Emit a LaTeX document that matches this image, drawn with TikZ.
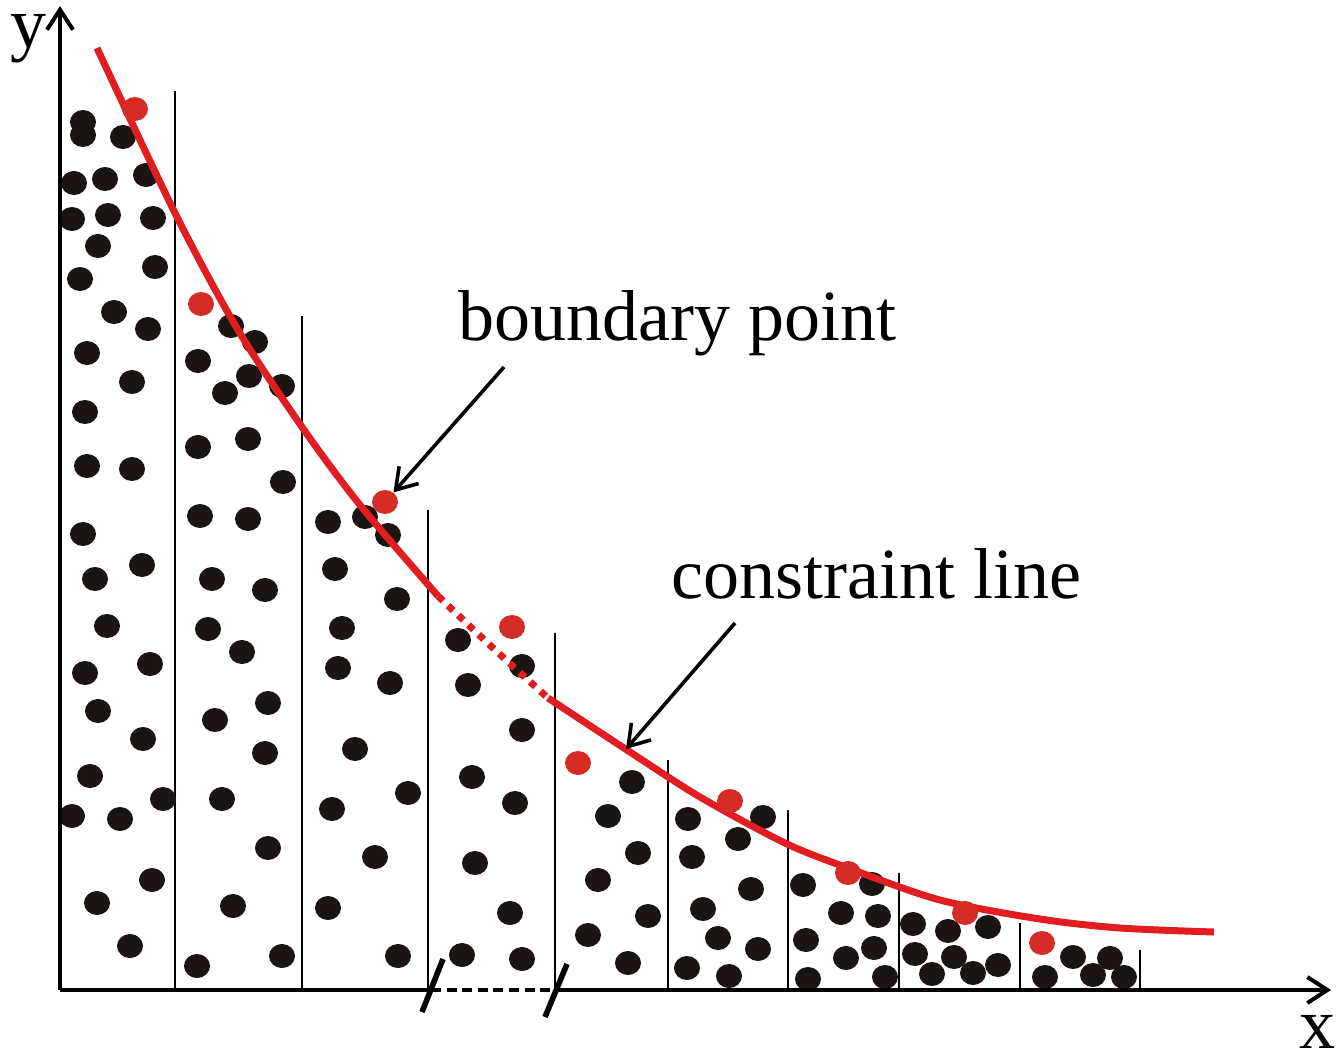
\documentclass[tikz,border=0pt]{standalone}
\usepackage{fontspec}
\setmainfont{Liberation Serif}
\usetikzlibrary{
    arrows.meta,
    shapes.geometric
}
\definecolor{curvered}{RGB}{224,30,34}
\definecolor{dotred}{RGB}{214,44,38}
\definecolor{dotblack}{RGB}{26,20,18}
\tikzset{
  axisline/.style={
    black,
    line width=2pt
  },
  divline/.style={
    black,
    line width=0.7pt
  },
  redcurve/.style={
    curvered,
    line width=3.5pt
  },
  callout/.style={
    black,
    line width=1.8pt,
    ->
  },
  blackdot/.style={
    ellipse,
    fill=dotblack,
    inner sep=0pt,
    minimum width=13pt,
    minimum height=12pt
  },
  reddot/.style={
    blackdot,
    fill=dotred
  },
  lbl/.style={
    font=\fontsize{36}{40}\selectfont,
    inner sep=0pt
  }
}

\begin{document}
\begin{tikzpicture}[x=0.5pt,y=-0.5pt,>={Straight Barb[length=10pt,width=13pt]}]
    \useasboundingbox (0,0) rectangle (1341,1057);

    % 区間の仕切り
    \foreach \px/\py in {175/91,302/316,428/510,555/633,668/760,788/810,899/873,1020/923,1140/950}
        \draw[divline] (\px,\py) -- (\px,990);

    % 黒い点
    \foreach \px/\py [count=\i] in {
        83/122,83/135,123/137,74/183,105/179,146/175,72/219,108/215,153/218,
        98/246,155/267,80/279,114/312,148/329,87/353,132/382,85/412,87/466,
        132/469,83/534,142/565,95/579,107/626,85/673,150/664,98/711,143/739,
        90/776,163/799,72/816,120/819,152/880,97/903,130/946,
        231/326,255/342,198/361,249/376,282/386,225/393,198/447,248/439,
        283/482,200/516,248/519,212/579,265/590,208/629,242/652,268/703,
        215/720,265/753,222/799,268/848,233/906,197/966,282/956,
        328/522,365/517,388/535,335/569,397/599,342/628,338/668,390/683,
        355/749,408/793,332/809,375/857,328/908,398/956,
        458/640,522/666,468/685,522/730,472/777,515/803,475/863,510/913,
        462/955,522/959,
        632/782,608/816,638/853,598/880,648/916,588/935,628/963,
        688/819,763/817,738/839,692/857,751/889,703/909,718/938,758/949,
        687/968,729/976,
        803/885,872/884,841/913,878/916,806/940,874/948,846/958,808/979,885/977,
        913/924,948/931,988/927,915/954,954/957,932/974,973/973,998/965,
        1073/957,1110/958,1045/977,1093/975,1124/977}
        \node[blackdot] (b\i) at (\px,\py) {};

    % 制約線
    \draw[redcurve] plot[smooth] coordinates
        {(97,48) (175,213) (238,330) (302,427) (360,505) (438,596)};
    \draw[redcurve,dash pattern=on 3.5pt off 3.5pt] plot[smooth] coordinates
        {(438,596) (493,648) (548,698)};
    \draw[redcurve] plot[smooth] coordinates
        {(548,698) (627,750) (700,797) (785,843) (848,868) (940,900) (1040,919) (1120,928) (1214,932)};

    % 境界点
    \foreach \px/\py [count=\i] in {135/109,201/304,385/502,512/627,578/763,730/801,848/873,965/913,1042/943}
        \node[reddot] (r\i) at (\px,\py) {};

    % 軸
    \coordinate (O) at (60,990);
    \coordinate (ytop) at (60,6);
    \coordinate (xend) at (1331,990);
    \coordinate (brkA) at (431,990);
    \coordinate (brkB) at (556,990);
    \draw[axisline,->] (O) -- (ytop);
    \draw[axisline] (O) -- (brkA);
    \draw[black,line width=1.8pt,dash pattern=on 5pt off 2.8pt] (brkA) -- (brkB);
    \draw[axisline,->] (brkB) -- (xend);
    \draw[black,line width=2.8pt] (422,1012) -- (443,959);
    \draw[black,line width=2.8pt] (545,1017) -- (567,964);

    \node[lbl,anchor=base west] (ylab) at (10,47) {y};
    \node[lbl,anchor=base west] (xlab) at (1299,1048) {x};

    % 注釈
    \node[lbl,anchor=base west] (bp) at (458,340) {boundary point};
    \node[lbl,anchor=base west] (cl) at (671,598) {constraint line};

    \coordinate (bpfrom) at (504,367);
    \draw[callout] (bpfrom) -- (r3);
    \coordinate (clfrom) at (735,623);
    \coordinate (cltip) at (626,749);
    \draw[callout] (clfrom) -- (cltip);
\end{tikzpicture}
\end{document}
